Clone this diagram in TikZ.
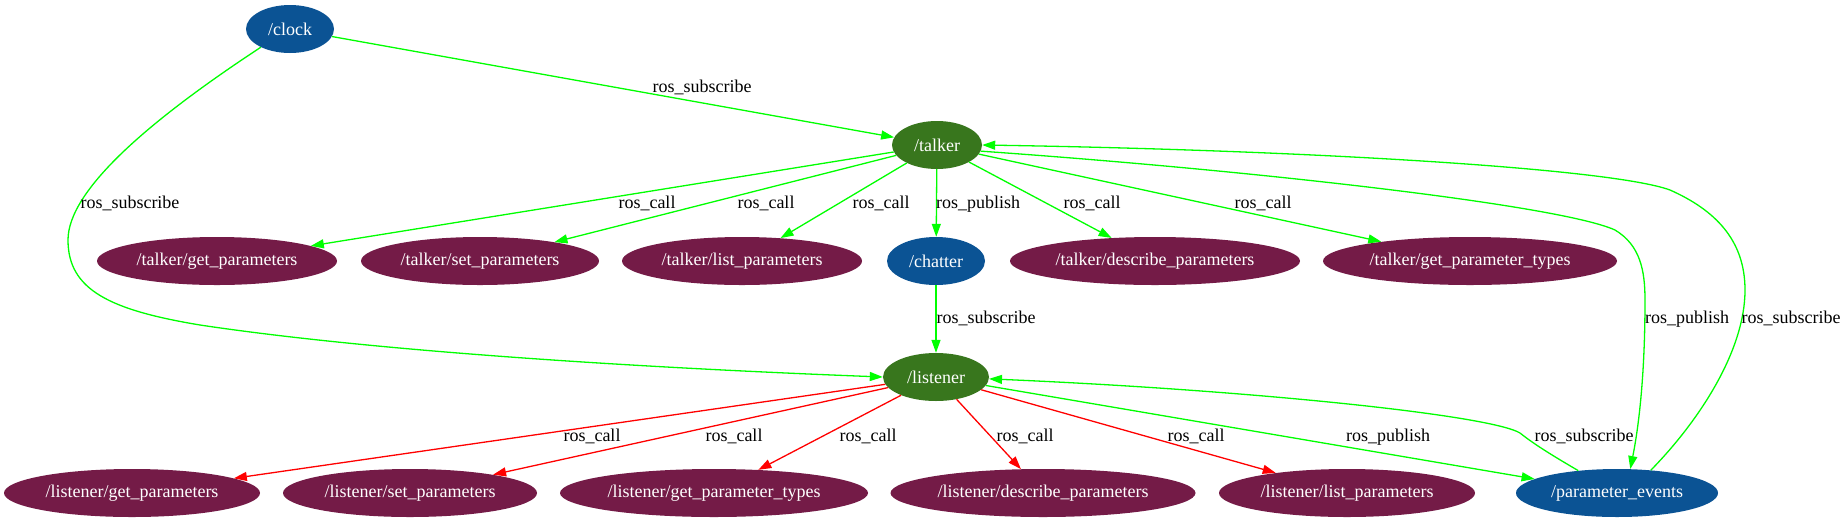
\documentclass[tikz,border=0pt]{standalone}
\usepackage{fontspec}
\setmainfont{Liberation Serif}
\usetikzlibrary{shapes.geometric,arrows.meta}
\definecolor{nblue}{HTML}{0B5394}
\definecolor{ngreen}{HTML}{38761D}
\definecolor{npurple}{HTML}{741B47}
\definecolor{egreen}{RGB}{0,255,0}
\definecolor{ered}{RGB}{255,0,0}
\begin{document}
\begin{tikzpicture}[x=1pt,y=-1pt,
  every node/.style={font=\fontsize{18}{20}\selectfont},
  nd/.style={ellipse,inner sep=0pt,minimum height=48pt,text=white},
  bnode/.style={nd,fill=nblue},
  gnode/.style={nd,fill=ngreen},
  pnode/.style={nd,fill=npurple},
  ge/.style={draw=egreen,line width=1.3pt,-{Triangle[length=13pt,width=9pt]}},
  re/.style={draw=ered,line width=1.3pt,-{Triangle[length=13pt,width=9pt]}},
  lbl/.style={anchor=base,inner sep=0pt,text=black}
]
\useasboundingbox (0,0) rectangle (1847,523);
% nodes
\node[bnode,minimum width=88pt] (clock) at (290,29) {/clock};
\node[gnode,minimum width=90pt] (talker) at (937,145) {/talker};
\node[pnode,minimum width=240pt] (tgp) at (217,261) {/talker/get\_parameters};
\node[pnode,minimum width=238pt] (tsp) at (480,261) {/talker/set\_parameters};
\node[pnode,minimum width=240pt] (tlp) at (742,261) {/talker/list\_parameters};
\node[bnode,minimum width=98pt] (chatter) at (936,261) {/chatter};
\node[pnode,minimum width=290pt] (tdp) at (1155,261) {/talker/describe\_parameters};
\node[pnode,minimum width=294pt] (tgpt) at (1470,261) {/talker/get\_parameter\_types};
\node[gnode,minimum width=106pt] (listener) at (936,377) {/listener};
\node[pnode,minimum width=256pt] (lgp) at (132,493) {/listener/get\_parameters};
\node[pnode,minimum width=254pt] (lsp) at (410,493) {/listener/set\_parameters};
\node[pnode,minimum width=308pt] (lgpt) at (714,493) {/listener/get\_parameter\_types};
\node[pnode,minimum width=305pt] (ldp) at (1043,493) {/listener/describe\_parameters};
\node[pnode,minimum width=256pt] (llp) at (1347,493) {/listener/list\_parameters};
\node[bnode,minimum width=202pt] (pe) at (1617,493) {/parameter\_events};
% edges
\draw[ge] (clock) -- (talker);
\draw[ge] (clock.-148) .. controls (150,120) and (68,190) .. (68,240)
  .. controls (68,290) and (110,310) .. (200,325)
  .. controls (400,355) and (700,370) .. (listener.west);
\draw[ge] (talker) -- (tgp);
\draw[ge] (talker) -- (tsp);
\draw[ge] (talker) -- (tlp);
\draw[ge] (talker) -- (chatter);
\draw[ge] (talker) -- (tdp);
\draw[ge] (talker) -- (tgpt);
\draw[ge] (chatter) -- (listener);
\draw[ge] (talker.-8) .. controls (1250,170) and (1560,205) .. (1615,230)
  .. controls (1640,245) and (1645,270) .. (1645,300)
  .. controls (1645,380) and (1638,430) .. (pe.61);
\draw[ge] (pe.34) .. controls (1700,420) and (1745,350) .. (1745,290)
  .. controls (1745,240) and (1715,210) .. (1670,190)
  .. controls (1610,168) and (1300,150) .. (talker.0);
\draw[re] (listener) -- (lgp);
\draw[re] (listener) -- (lsp);
\draw[re] (listener) -- (lgpt);
\draw[re] (listener) -- (ldp);
\draw[re] (listener) -- (llp);
\draw[ge] (listener) -- (pe);
\draw[ge] (pe.150) .. controls (1555,457) and (1535,445) .. (1520,433)
  .. controls (1490,415) and (1250,390) .. (listener.-2);
% labels
\node[lbl] (l1) at (702,92) {ros\_subscribe};
\node[lbl] (l2) at (130,208) {ros\_subscribe};
\node[lbl] (l3) at (647,208) {ros\_call};
\node[lbl] (l4) at (766,208) {ros\_call};
\node[lbl] (l5) at (881,208) {ros\_call};
\node[lbl] (l6) at (978,208) {ros\_publish};
\node[lbl] (l7) at (1092,208) {ros\_call};
\node[lbl] (l8) at (1263,208) {ros\_call};
\node[lbl] (l9) at (986,323) {ros\_subscribe};
\node[lbl] (l10) at (1687,323) {ros\_publish};
\node[lbl] (l11) at (1791,323) {ros\_subscribe};
\node[lbl] (l12) at (592,441) {ros\_call};
\node[lbl] (l13) at (734,441) {ros\_call};
\node[lbl] (l14) at (868,441) {ros\_call};
\node[lbl] (l15) at (1025,441) {ros\_call};
\node[lbl] (l16) at (1196,441) {ros\_call};
\node[lbl] (l17) at (1388,441) {ros\_publish};
\node[lbl] (l18) at (1584,441) {ros\_subscribe};
\end{tikzpicture}
\end{document}
